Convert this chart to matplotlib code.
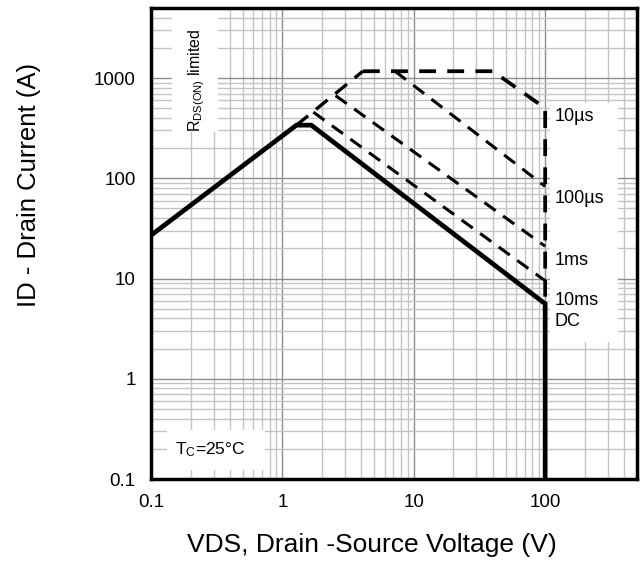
import matplotlib
matplotlib.use("Agg")
import matplotlib.pyplot as plt
from matplotlib.patches import Rectangle
from matplotlib.ticker import LogLocator, FixedLocator, FixedFormatter, NullFormatter

plt.rcParams['font.family'] = ['Liberation Sans', 'DejaVu Sans']
plt.rcParams['mathtext.fontset'] = 'custom'
plt.rcParams['mathtext.rm'] = 'Liberation Sans'
plt.rcParams['mathtext.it'] = 'Liberation Sans:italic'

# ---- data ----
dc_v = [0.1, 1.28, 1.66, 100, 100]
dc_i = [27, 339, 339, 5.6, 0.1]

rds_v = [1.28, 4.1]
rds_i = [339, 1170]

us10_v = [4.1, 40, 100, 100]
us10_i = [1170, 1170, 500, 5.6]

us100_v = [7.2, 100]
us100_i = [1170, 83]

ms1_v = [2.54, 100]
ms1_i = [668, 21]

ms10_v = [1.72, 100]
ms10_i = [457, 9.5]

xticks = [0.1, 1, 10, 100]
xtick_labels = ["0.1", "1", "10", "100"]
yticks = [0.1, 1, 10, 100, 1000]
ytick_labels = ["0.1", "1", "10", "100", "1000"]

labels = ["10µs", "100µs", "1ms", "10ms", "DC"]
label_y = [417, 63, 15, 6.0, 3.7]

fig = plt.figure(figsize=(6.43, 5.64), dpi=100)
ax = fig.add_axes([151/643, 1-479/564, 486/643, 471/564])
ax.set_xscale('log')
ax.set_yscale('log')
ax.set_xlim(0.1, 500)
ax.set_ylim(0.1, 5000)

ax.xaxis.set_major_locator(FixedLocator(xticks))
ax.xaxis.set_major_formatter(FixedFormatter(xtick_labels))
ax.yaxis.set_major_locator(FixedLocator(yticks))
ax.yaxis.set_major_formatter(FixedFormatter(ytick_labels))
ax.xaxis.set_minor_locator(LogLocator(base=10, subs=range(2, 10)))
ax.yaxis.set_minor_locator(LogLocator(base=10, subs=range(2, 10)))
ax.xaxis.set_minor_formatter(NullFormatter())
ax.yaxis.set_minor_formatter(NullFormatter())

ax.grid(which='major', color='#8e8e8e', linewidth=1.0, zorder=0)
ax.grid(which='minor', color='#c4c4c4', linewidth=1.0, zorder=0)
ax.set_axisbelow(True)
ax.tick_params(which='both', length=0)
ax.tick_params(axis='x', labelsize=13.5, pad=11)
ax.tick_params(axis='y', labelsize=13.5, pad=11)
for s in ax.spines.values():
    s.set_linewidth(2.5)
    s.set_color('black')

# white label boxes
for (x0, y0, w, h) in [(0.043, 0.737, 0.095, 0.259),
                       (0.821, 0.291, 0.14, 0.507),
                       (0.033, 0.019, 0.202, 0.085)]:
    ax.add_patch(Rectangle((x0, y0), w, h, transform=ax.transAxes,
                           facecolor='white', edgecolor='none', zorder=1))

dash = (0, (4.5, 3.0))
ax.plot(rds_v, rds_i, color='black', lw=2.4, ls=dash, zorder=3)
ax.plot(us10_v, us10_i, color='black', lw=2.7, ls=dash, zorder=3)
ax.plot(us100_v, us100_i, color='black', lw=2.2, ls=dash, zorder=3)
ax.plot(ms1_v, ms1_i, color='black', lw=2.2, ls=dash, zorder=3)
ax.plot(ms10_v, ms10_i, color='black', lw=2.2, ls=dash, zorder=3)
ax.plot(dc_v, dc_i, color='black', lw=3.4, zorder=4, solid_joinstyle='miter')

for t, yv in zip(labels, label_y):
    ax.text(118, yv, t, fontsize=13, ha='left', va='center', zorder=5)

ax.text(0.1 * 10**((197 - 151) / 131), 10**(3 - (82 - 80) / 100),
        r'R$_{\mathrm{DS(ON)}}$ limited', rotation=90, fontsize=11.5,
        ha='center', va='center', zorder=5)
ax.text(0.1 * 10**((210 - 151) / 131), 10**(-(450 - 379) / 100),
        r'T$_\mathrm{C}$=25°C', fontsize=12.5, ha='center', va='center', zorder=5)

ax.set_xlabel('VDS, Drain -Source Voltage (V)', fontsize=19)
ax.set_ylabel('ID - Drain Current (A)', fontsize=18.5)
ax.xaxis.set_label_coords(0.455, -0.115)
ax.yaxis.set_label_coords(-0.226, 0.624)

fig.savefig('out.png', dpi=100)
